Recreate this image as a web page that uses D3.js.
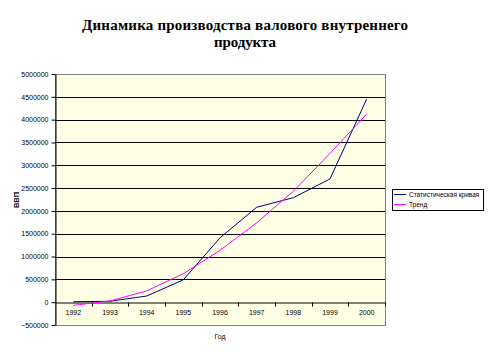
<!DOCTYPE html>
<html>
<head>
<meta charset="utf-8">
<script src="https://cdn.jsdelivr.net/npm/d3@7"></script>
<style>
body { margin:0; background:#fff; }
.sans { font-family: "Liberation Sans", Arial, sans-serif; }
.serif { font-family: "Liberation Serif", "Times New Roman", serif; font-weight: bold; font-size: 15px; }
</style>
</head>
<body>
<div id="chart"></div>
<script>
var years = ["1992","1993","1994","1995","1996","1997","1998","1999","2000"];
var statValues = [10000, 20000, 135000, 490000, 1410000, 2080000, 2290000, 2700000, 4450000];
var trendValues = [-70000, 28000, 247000, 625000, 1135000, 1740000, 2430000, 3260000, 4120000];
var yTicks = [-500000, 0, 500000, 1000000, 1500000, 2000000, 2500000, 3000000, 3500000, 4000000, 4500000, 5000000];
var seriesNames = ["Статистическая кривая", "Тренд"];
var seriesColors = ["#000080", "#ff00ff"];

var width = 490, height = 352;
var plot = {left:55, right:385, top:74, bottom:325};

var svg = d3.select("#chart").append("svg")
	.attr("class","sans")
	.attr("width", width)
	.attr("height", height);

// title
var title = svg.append("text")
	.attr("class","serif")
	.attr("text-anchor","middle")
	.attr("fill","#000");
title.append("tspan").attr("class","serif").attr("x",245).attr("y",29.5)
	.attr("textLength",326).attr("lengthAdjust","spacing")
	.text("Динамика производства валового внутреннего");
title.append("tspan").attr("class","serif").attr("x",245).attr("y",46.5)
	.attr("textLength",62).attr("lengthAdjust","spacing")
	.text("продукта");

var xScale = d3.scaleBand()
	.domain(years)
	.range([plot.left, plot.right])
	.paddingInner(0).paddingOuter(0);

var yScale = d3.scaleLinear()
	.domain([yTicks[0], yTicks[yTicks.length-1]])
	.range([plot.bottom, plot.top]);

var cx = function(d){ return xScale(d) + xScale.bandwidth()/2; };

// plot area
svg.append("rect")
	.attr("x", plot.left).attr("y", plot.top)
	.attr("width", plot.right - plot.left)
	.attr("height", plot.bottom - plot.top)
	.attr("fill","#ffffe6")
	.attr("stroke","#808080")
	.attr("stroke-width",1)
	.attr("shape-rendering","crispEdges");

// gridlines
svg.append("g").selectAll("line")
	.data(yTicks.filter(function(d){ return d > 0 && d < 5000000; }))
	.enter().append("line")
	.attr("x1", plot.left).attr("x2", plot.right)
	.attr("y1", function(d){ return Math.round(yScale(d)) + 0.5; })
	.attr("y2", function(d){ return Math.round(yScale(d)) + 0.5; })
	.attr("stroke","#000")
	.attr("stroke-width",1);

// y axis
var yAxis = d3.axisLeft(yScale)
	.tickValues(yTicks)
	.tickFormat(d3.format("d"))
	.tickSizeInner(4)
	.tickSizeOuter(0)
	.tickPadding(3);

var gy = svg.append("g")
	.attr("transform","translate(" + (plot.left + 0.5) + ",0)")
	.call(yAxis);
gy.attr("font-family", null);
gy.selectAll("text").style("font-size","7px").attr("fill","#000");
gy.selectAll("line").attr("stroke","#000");
gy.select(".domain").attr("stroke","#000");

// x axis at zero
var y0 = Math.round(yScale(0)) + 0.5;
var xAxis = d3.axisBottom(xScale)
	.tickSizeInner(0)
	.tickSizeOuter(0)
	.tickPadding(8);

var gx = svg.append("g")
	.attr("transform","translate(0," + y0 + ")")
	.call(xAxis);
gx.attr("font-family", null);
gx.selectAll("text").style("font-size","7px").attr("fill","#000");
gx.select(".domain").attr("stroke","#000");

// category boundary ticks
gx.append("g").selectAll("line")
	.data(years.slice(1).concat(["end"]))
	.enter().append("line")
	.attr("x1", function(d){ return Math.round(d == "end" ? plot.right : xScale(d)) + 0.5; })
	.attr("x2", function(d){ return Math.round(d == "end" ? plot.right : xScale(d)) + 0.5; })
	.attr("y1", 0).attr("y2", 4)
	.attr("stroke","#000");

// lines
var line = d3.line()
	.x(function(d){ return cx(d.year); })
	.y(function(d){ return yScale(d.value); });

[statValues, trendValues].forEach(function(vals, i){
	svg.append("path")
		.datum(years.map(function(y, j){ return {year:y, value:vals[j]}; }))
		.attr("d", line)
		.attr("fill","none")
		.attr("stroke", seriesColors[i])
		.attr("stroke-width",1);
});

// axis titles
svg.append("text")
	.attr("transform","translate(19,200) rotate(-90)")
	.attr("text-anchor","middle")
	.style("font-size","7.5px")
	.style("font-weight","bold")
	.text("ВВП");

svg.append("text")
	.attr("x",220).attr("y",339)
	.attr("text-anchor","middle")
	.style("font-size","7px")
	.text("Год");

// legend
var legend = svg.append("g");
legend.append("rect")
	.attr("x",392.5).attr("y",189.5)
	.attr("width",91).attr("height",21)
	.attr("fill","#fff")
	.attr("stroke","#000")
	.attr("stroke-width",1);

seriesNames.forEach(function(name, i){
	var ly = 194.5 + i*10;
	legend.append("line")
		.attr("x1",394).attr("x2",406)
		.attr("y1",ly).attr("y2",ly)
		.attr("stroke",seriesColors[i])
		.attr("stroke-width",1);
	legend.append("text")
		.attr("x",409).attr("y",ly + 2.3)
		.style("font-size","6.5px")
		.text(name);
});
</script>
</body>
</html>
